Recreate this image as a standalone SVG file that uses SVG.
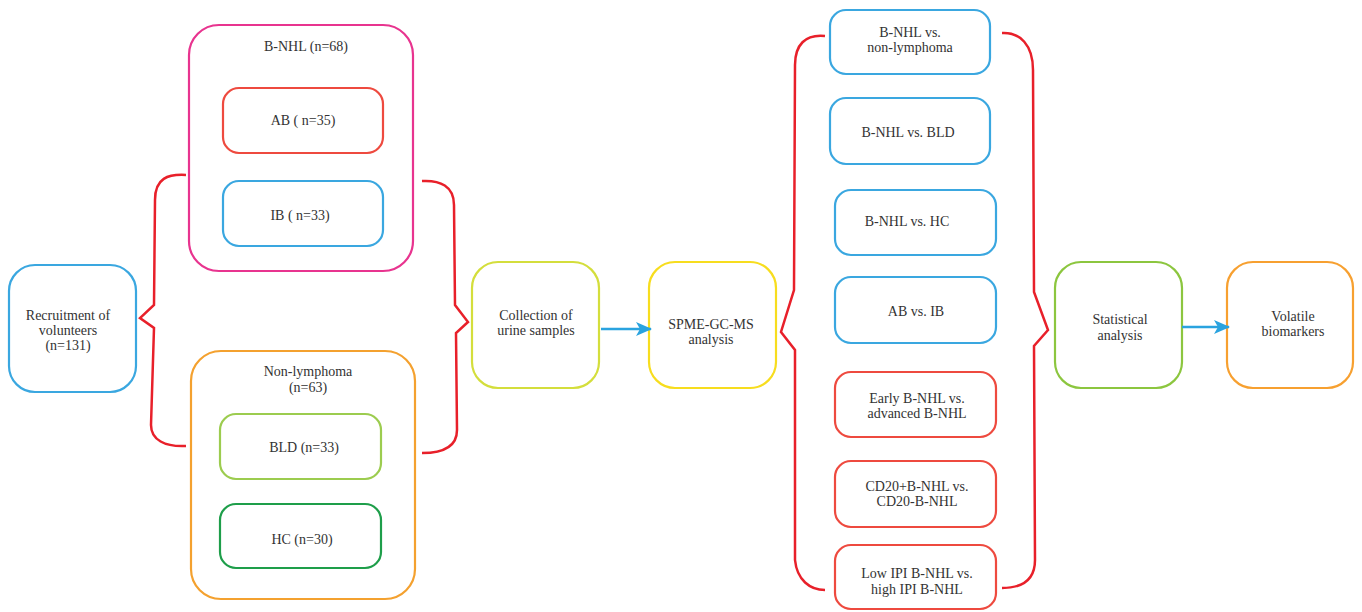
<svg xmlns="http://www.w3.org/2000/svg" width="1362" height="612" viewBox="0 0 1362 612" font-family="'Liberation Serif', 'Times New Roman', serif">
<defs>
<style>
.b{fill:#fff;stroke-width:2.2}
text{font-family:'Liberation Serif','Times New Roman',serif}
.t{font-size:14px;fill:#333;text-anchor:middle}
.br{fill:none;stroke:#e8202a;stroke-width:2.5;stroke-linejoin:miter}
.ar{fill:none;stroke:#2aa3df;stroke-width:2.5}
</style>
<marker id="ah" viewBox="0 0 16 14" refX="15" refY="7" markerWidth="16" markerHeight="14" markerUnits="userSpaceOnUse" orient="auto">
<path d="M0,0 L16,7 L0,14 L4,7 Z" fill="#2aa3df"/>
</marker>
</defs>
<rect width="1362" height="612" fill="#fff"/>

<g id="recruitment">
<rect class="b" x="9" y="265" width="127" height="127" rx="26" stroke="#3aa7e0"/>
<text class="t" x="68" y="320">Recruitment of</text>
<text class="t" x="68" y="335">volunteers</text>
<text class="t" x="68" y="350">(n=131)</text>
</g>

<g id="bnhl">
<rect class="b" x="189" y="25" width="224" height="246" rx="30" stroke="#e8348f"/>
<text class="t" x="306" y="51">B-NHL (n=68)</text>
</g>
<g id="ab">
<rect class="b" x="223" y="88" width="160" height="65" rx="16" stroke="#ee4a3f"/>
<text class="t" x="303" y="125">AB ( n=35)</text>
</g>
<g id="ib">
<rect class="b" x="223" y="181" width="160" height="65" rx="16" stroke="#3aa7e0"/>
<text class="t" x="300" y="220">IB ( n=33)</text>
</g>

<g id="nonlymphoma">
<rect class="b" x="191" y="351" width="224" height="248" rx="30" stroke="#f4a12f"/>
<text class="t" x="308" y="376">Non-lymphoma</text>
<text class="t" x="308" y="392">(n=63)</text>
</g>
<g id="bld">
<rect class="b" x="220" y="414" width="161" height="65" rx="16" stroke="#9ccc4f"/>
<text class="t" x="304" y="452">BLD (n=33)</text>
</g>
<g id="hc">
<rect class="b" x="220" y="504" width="161" height="64" rx="16" stroke="#1e9e4a"/>
<text class="t" x="302" y="544">HC (n=30)</text>
</g>

<g id="collection">
<rect class="b" x="472" y="262" width="127" height="126" rx="26" stroke="#d4de3c"/>
<text class="t" x="536" y="320">Collection of</text>
<text class="t" x="536" y="335">urine samples</text>
</g>
<g id="spme">
<rect class="b" x="649" y="262" width="127" height="126" rx="26" stroke="#f7dd1e"/>
<text class="t" x="711" y="329">SPME-GC-MS</text>
<text class="t" x="711" y="344">analysis</text>
</g>

<g id="cmp1">
<rect class="b" x="830" y="10" width="160" height="64" rx="16" stroke="#3aa7e0"/>
<text class="t" x="910" y="37">B-NHL vs.</text>
<text class="t" x="910" y="52">non-lymphoma</text>
</g>
<g id="cmp2">
<rect class="b" x="830" y="98" width="160" height="66" rx="16" stroke="#3aa7e0"/>
<text class="t" x="908" y="137">B-NHL vs. BLD</text>
</g>
<g id="cmp3">
<rect class="b" x="835" y="190" width="161" height="65" rx="16" stroke="#3aa7e0"/>
<text class="t" x="907" y="226">B-NHL vs. HC</text>
</g>
<g id="cmp4">
<rect class="b" x="835" y="277" width="161" height="66" rx="16" stroke="#3aa7e0"/>
<text class="t" x="916" y="316">AB vs. IB</text>
</g>
<g id="cmp5">
<rect class="b" x="835" y="372" width="161" height="65" rx="16" stroke="#ee4a3f"/>
<text class="t" x="917" y="403">Early B-NHL vs.</text>
<text class="t" x="917" y="418">advanced B-NHL</text>
</g>
<g id="cmp6">
<rect class="b" x="835" y="461" width="161" height="66" rx="16" stroke="#ee4a3f"/>
<text class="t" x="917" y="491">CD20+B-NHL vs.</text>
<text class="t" x="917" y="506">CD20-B-NHL</text>
</g>
<g id="cmp7">
<rect class="b" x="835" y="545" width="161" height="64" rx="16" stroke="#ee4a3f"/>
<text class="t" x="917" y="578">Low IPI B-NHL vs.</text>
<text class="t" x="917" y="594">high IPI B-NHL</text>
</g>

<g id="statistical">
<rect class="b" x="1055" y="262" width="127" height="126" rx="26" stroke="#8cc63f"/>
<text class="t" x="1120" y="324">Statistical</text>
<text class="t" x="1120" y="340">analysis</text>
</g>
<g id="volatile">
<rect class="b" x="1227" y="262" width="126" height="126" rx="26" stroke="#f7a030"/>
<text class="t" x="1293" y="321">Volatile</text>
<text class="t" x="1293" y="336">biomarkers</text>
</g>

<g id="connectors">
<path class="br" d="M186,175 C168,174 155,178 155,200 L154,305 L140,318 L154,328 L151,425 C151,440 165,447 186,446"/>
<path class="br" d="M422,181 C440,180 454,186 454,205 L455,305 L468,322 L456,333 L457,430 C457,445 445,453 422,453"/>
<path class="br" d="M825,36 C805,34 795,45 795,65 L794,290 L781,332 L795,350 L795,560 C797,580 810,590 825,590"/>
<path class="br" d="M1002,33 C1020,32 1033,45 1033,70 L1034,292 L1048,330 L1034,346 L1035,560 C1035,580 1022,588 1002,588"/>
<line class="ar" x1="601" y1="329" x2="651" y2="329" marker-end="url(#ah)"/>
<line class="ar" x1="1182" y1="327" x2="1229" y2="327" marker-end="url(#ah)"/>
</g>
</svg>
